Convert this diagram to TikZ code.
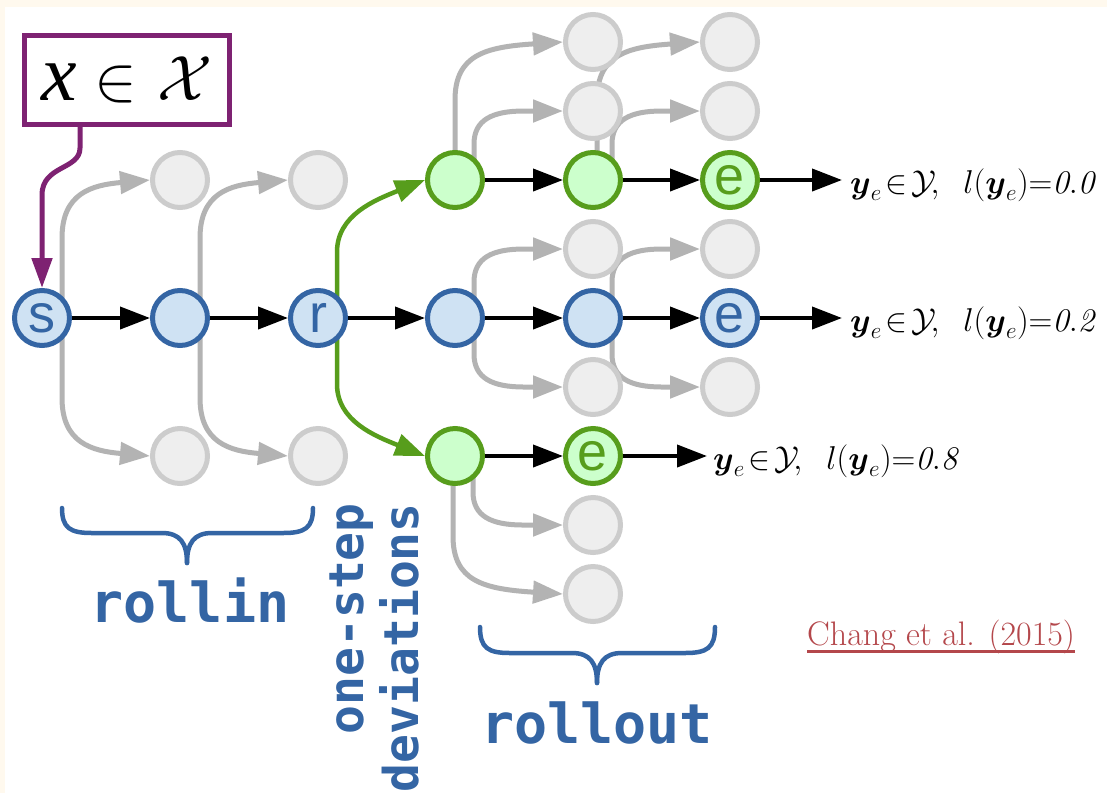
\RequirePackage{fix-cm}
\documentclass[tikz,border=0pt]{standalone}
\usepackage{amsmath}
\usepackage{fontspec}
\usetikzlibrary{arrows.meta,calc}
\newfontfamily\monofont{DejaVu Sans Mono}
\newfontfamily\nodefont{Liberation Sans}
\newfontfamily\timesfont{Liberation Serif}
\definecolor{cream}{HTML}{FFF9EE}
\definecolor{bstroke}{HTML}{3465A4}
\definecolor{bfill}{HTML}{CFE2F3}
\definecolor{gstroke}{HTML}{579D1C}
\definecolor{gfill}{HTML}{CCFFCC}
\definecolor{xstroke}{HTML}{CCCCCC}
\definecolor{xfill}{HTML}{EEEEEE}
\definecolor{garrow}{HTML}{B3B3B3}
\definecolor{purp}{HTML}{7E2272}
\definecolor{citered}{HTML}{B4474B}
\pgfdeclarelayer{back}
\pgfdeclarelayer{bg}
\pgfsetlayers{back,bg,main}
\newcommand\farc[5]{\draw[#1] ($(#2)+(#3,0)$) -- ($(#2)+(#3,#5*80)$) .. controls ($(#2)+(#3,#5*125)$) and ($(#2)+(#3+30,#5*133)$) .. (#4.west);}
\newcommand\nearc[5]{\draw[#1] ($(#2)+(#3,0)$) -- ($(#2)+(#3,#5*36)$) .. controls ($(#2)+(#3,#5*60)$) and ($(#2)+(#3+18,#5*69)$) .. ($(#2)+(#3+50,#5*69)$) -- (#4.west);}
\newcommand\outlab[1]{$\boldsymbol{y}_{e}\!\in\!\mathcal{Y}\!,\;\; l(\boldsymbol{y}_{e})\mathord{=}\mathit{#1}$}
\begin{document}
\begin{tikzpicture}[x=1pt,y=-1pt,
  circ/.style={circle, minimum size=55pt, inner sep=0pt, line width=5pt, font=\nodefont\fontsize{54}{54}\selectfont},
  bnode/.style={circ, draw=bstroke, fill=bfill, text=bstroke},
  gnode/.style={circ, draw=gstroke, fill=gfill, text=gstroke},
  xnode/.style={circ, draw=xstroke, fill=xfill},
  tip/.style={-{Triangle[length=30pt,width=22pt]}},
  blk/.style={tip, line width=4pt, draw=black},
  gry/.style={tip, line width=5pt, draw=garrow},
  grn/.style={tip, line width=4.5pt, draw=gstroke},
  lab/.style={anchor=base west, inner sep=0pt, font=\fontsize{33}{33}\selectfont},
  bigtext/.style={text=bstroke, inner sep=0pt, font=\monofont\bfseries\fontsize{55}{55}\selectfont},
  sidetext/.style={text=bstroke, inner sep=0pt, rotate=90, anchor=base east, font=\monofont\bfseries\fontsize{48}{48}\selectfont},
  brace/.style={draw=bstroke, line width=4.5pt, line cap=round, line join=round}
]
\useasboundingbox (0,0) rectangle (1107,793);
\begin{pgfonlayer}{back}
\fill[cream] (0,0) rectangle (1107,793);
\fill[white] (5,7) rectangle (1107,793);
\end{pgfonlayer}

% main row
\node[bnode] (s) at (42,318) {s};
\node[bnode] (b1) at (180,318) {};
\node[bnode] (r) at (318,318) {r};
\node[bnode] (b3) at (455,318) {};
\node[bnode] (b4) at (593,318) {};
\node[bnode] (be) at (730,318) {e};
% rollin alternatives
\node[xnode] (g1a) at (180,180) {};
\node[xnode] (g1b) at (180,456) {};
\node[xnode] (g2a) at (318,180) {};
\node[xnode] (g2b) at (318,456) {};
% green upper row
\node[gnode] (G1) at (455,180) {};
\node[gnode] (G2) at (593,180) {};
\node[gnode] (Ge) at (730,180) {e};
\node[xnode] (t1) at (593,42) {};
\node[xnode] (t2) at (730,42) {};
\node[xnode] (t3) at (593,111) {};
\node[xnode] (t4) at (730,111) {};
% middle alternatives
\node[xnode] (m1) at (593,249) {};
\node[xnode] (m2) at (730,249) {};
\node[xnode] (m3) at (593,387) {};
\node[xnode] (m4) at (730,387) {};
% green lower row
\node[gnode] (H1) at (455,456) {};
\node[gnode] (He) at (593,456) {e};
\node[xnode] (u1) at (593,525) {};
\node[xnode] (u2) at (593,594) {};

\begin{pgfonlayer}{bg}
\farc{gry}{s}{20}{g1a}{-1}
\farc{gry}{s}{20}{g1b}{1}
\farc{gry}{b1}{20}{g2a}{-1}
\farc{gry}{b1}{20}{g2b}{1}
\farc{gry}{G1}{0}{t1}{-1}
\nearc{gry}{G1}{19}{t3}{-1}
\farc{gry}{G2}{4}{t2}{-1}
\nearc{gry}{G2}{19}{t4}{-1}
\nearc{gry}{b3}{19}{m1}{-1}
\nearc{gry}{b3}{19}{m3}{1}
\nearc{gry}{b4}{19}{m2}{-1}
\nearc{gry}{b4}{19}{m4}{1}
\nearc{gry}{H1}{18}{u1}{1}
\farc{gry}{H1}{-2}{u2}{1}
\draw[grn] ($(r)+(19,0)$) -- ($(r)+(19,-66)$) .. controls ($(r)+(19,-103)$) and ($(r)+(57,-118)$) .. (G1.west);
\draw[grn] ($(r)+(19,0)$) -- ($(r)+(19,66)$) .. controls ($(r)+(19,103)$) and ($(r)+(57,118)$) .. (H1.west);
\end{pgfonlayer}

% black arrows
\draw[blk] (s) -- (b1);
\draw[blk] (b1) -- (r);
\draw[blk] (r) -- (b3);
\draw[blk] (b3) -- (b4);
\draw[blk] (b4) -- (be);
\draw[blk] (G1) -- (G2);
\draw[blk] (G2) -- (Ge);
\draw[blk] (H1) -- (He);

\coordinate (o1) at (842,180);
\coordinate (o2) at (842,318);
\coordinate (o3) at (707,456);
\draw[blk] (Ge) -- (o1);
\draw[blk] (be) -- (o2);
\draw[blk] (He) -- (o3);
\node[lab] (l1) at (850,193) {\outlab{0.0}};
\node[lab] (l2) at (850,331) {\outlab{0.2}};
\node[lab] (l3) at (713,469) {\outlab{0.8}};

% input box
\node[draw=purp, line width=5pt, fill=white, minimum width=205pt, minimum height=89pt, inner sep=0pt] (xb) at (127,80)
  {\fontsize{64}{64}\selectfont{\fontsize{80}{80}\selectfont\timesfont\itshape x}\hspace{18pt}$\in$\hspace{20pt}$\mathcal{X}$};
\draw[purp, line width=5pt, -{Triangle[length=30pt,width=20pt]}] (xb.south -| 80,0) -- (80,148) .. controls (80,170) and (42,165) .. (42,195) -- (s.north);

% braces
\draw[brace] (62,508) .. controls (62,528) and (70,533) .. (92,533) -- (162,533) .. controls (180,533) and (187,543) .. (187,563);
\draw[brace] (313,508) .. controls (313,528) and (305,533) .. (283,533) -- (212,533) .. controls (194,533) and (187,543) .. (187,563);
\draw[brace] (480,627) .. controls (480,648) and (488,653) .. (510,653) -- (572,653) .. controls (590,653) and (597,663) .. (597,683);
\draw[brace] (715,627) .. controls (715,648) and (707,653) .. (685,653) -- (622,653) .. controls (604,653) and (597,663) .. (597,683);

\node[bigtext, anchor=base] (rollin) at (190,622) {rollin};
\node[bigtext, anchor=base] (rollout) at (597,743) {rollout};
\node[sidetext] (os) at (363,503) {one-step};
\node[sidetext] (dv) at (418,503) {deviations};

\node[anchor=base west, inner sep=0pt, text=citered, font=\fontsize{34}{34}\selectfont] (cite) at (807,645) {Chang et al. (2015)};
\draw[citered, line width=3pt] ($(cite.base west)+(0,6)$) -- ($(cite.base east)+(0,6)$);
\end{tikzpicture}
\end{document}
